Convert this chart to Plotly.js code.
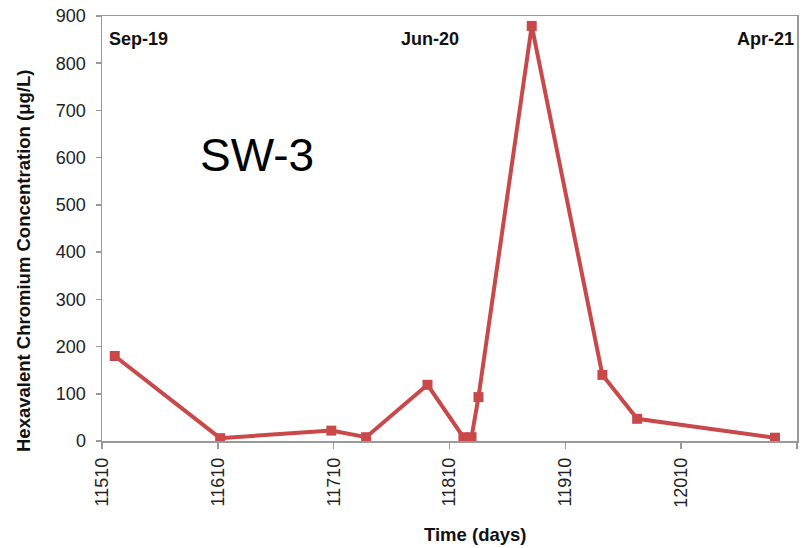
<!DOCTYPE html>
<html><head><meta charset="utf-8">
<script src="https://cdn.plot.ly/plotly-3.0.1.min.js"></script>
<style>html,body{margin:0;padding:0;background:#fff}#c{width:803px;height:548px}</style>
</head><body><div id="c"></div>
<script>
const days = [11521, 11612, 11708, 11738, 11791, 11822, 11829, 11835, 11881, 11942, 11972, 12091];
const crvi = [180, 6, 22, 8, 119, 8, 8, 93, 879, 140, 47, 7];
const xTicks = [11510, 11610, 11710, 11810, 11910, 12010, 12110];
const yTicks = [0, 100, 200, 300, 400, 500, 600, 700, 800, 900];
const dateLabels = ["Sep-19", "Jun-20", "Apr-21"];
const siteLabel = "SW-3";
const xTitle = "Time (days)";
const yTitle = "Hexavalent Chromium Concentration (μg/L)";

const F = "Liberation Sans, Arial, sans-serif";
const trace = {
  x: days, y: crvi, type: "scatter", mode: "lines+markers",
  line: {color: "#c9494a", width: 4},
  marker: {symbol: "square", size: 10, color: "#c9494a"}
};
const layout = {
  width: 803, height: 548,
  margin: {l: 102, r: 6, t: 16, b: 107},
  paper_bgcolor: "#fff", plot_bgcolor: "#fff",
  showlegend: false,
  xaxis: {
    range: [11510, 12110], tickvals: xTicks, ticktext: xTicks.map(String),
    tickangle: -90, ticks: "outside", ticklen: 6, tickcolor: "#999", tickwidth: 1.5,
    ticklabelstandoff: 2,
    showline: true, linecolor: "#999", linewidth: 1.5, mirror: true,
    showgrid: false, zeroline: false,
    tickfont: {family: F, size: 18, color: "#222"}
  },
  yaxis: {
    range: [0, 900], tickvals: yTicks, ticks: "outside", ticklen: 5, tickcolor: "#999", tickwidth: 1.5,
    ticklabelstandoff: 6,
    showline: true, linecolor: "#999", linewidth: 1.5, mirror: true,
    showgrid: false, zeroline: false,
    tickfont: {family: F, size: 18, color: "#222"}
  },
  annotations: [
    {text: "<b>" + dateLabels[0] + "</b>", xref: "paper", yref: "paper", x: 0.007, y: 0.945, xanchor: "left", yanchor: "middle", showarrow: false, font: {family: F, size: 18, color: "#111"}},
    {text: "<b>" + dateLabels[1] + "</b>", xref: "paper", yref: "paper", x: 0.472, y: 0.945, xanchor: "center", yanchor: "middle", showarrow: false, font: {family: F, size: 18, color: "#111"}},
    {text: "<b>" + dateLabels[2] + "</b>", xref: "paper", yref: "paper", x: 0.999, y: 0.945, xanchor: "right", yanchor: "middle", showarrow: false, font: {family: F, size: 18, color: "#111"}},
    {text: siteLabel, xref: "paper", yref: "paper", x: 0.138, y: 0.674, xanchor: "left", yanchor: "middle", showarrow: false, font: {family: F, size: 46, color: "#000"}},
    {text: "<b>" + xTitle + "</b>", xref: "paper", yref: "paper", x: 0.537, y: -0.221, xanchor: "center", yanchor: "middle", showarrow: false, font: {family: F, size: 18.5, color: "#111"}},
    {text: "<b>" + yTitle + "</b>", xref: "paper", yref: "paper", x: -0.1137, y: 0.4235, xanchor: "center", yanchor: "middle", textangle: -90, showarrow: false, font: {family: F, size: 18.5, color: "#111"}}
  ]
};
Plotly.newPlot("c", [trace], layout, {displayModeBar: false, staticPlot: true});
</script></body></html>
